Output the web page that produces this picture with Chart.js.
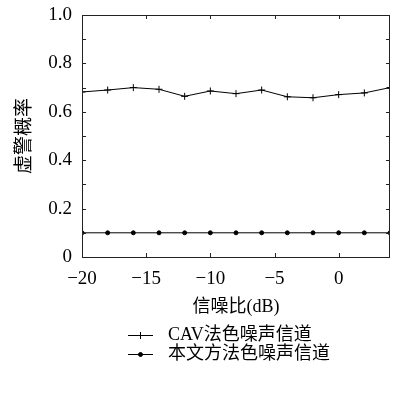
<!DOCTYPE html>
<html>
<head>
<meta charset="utf-8">
<script src="https://cdn.jsdelivr.net/npm/chart.js@4"></script>
<style>
  html, body { margin: 0; padding: 0; background: #fff; }
  #wrap { width: 399px; height: 412px; }
</style>
</head>
<body>
<div id="wrap"><canvas id="grafica" width="399" height="412"></canvas></div>
<script>
// Datos
const snr = [-20, -18, -16, -14, -12, -10, -8, -6, -4, -2, 0, 2, 4];
const cavValores = [0.682, 0.690, 0.700, 0.693, 0.664, 0.686, 0.675, 0.690, 0.662, 0.658, 0.671, 0.678, 0.700];
const propuestoValores = [0.1, 0.1, 0.1, 0.1, 0.1, 0.1, 0.1, 0.1, 0.1, 0.1, 0.1, 0.1, 0.1];
const nombresSeries = ['CAV法色噪声信道', '本文方法色噪声信道'];

// Marcas de los ejes
const xTicks = [-20, -15, -10, -5, 0];
const xTickLabels = ['\u221220', '\u221215', '\u221210', '\u22125', '0'];
const yTicks = [0, 0.1, 0.2, 0.3, 0.4, 0.5, 0.6, 0.7, 0.8, 0.9, 1.0];
const yTickLabels = ['0', '', '0.2', '', '0.4', '', '0.6', '', '0.8', '', '1.0'];

const fuenteNum = "'Liberation Serif', 'Noto Sans CJK SC', serif";
const fuenteTexto = "'Liberation Serif', 'Noto Sans CJK SC', serif";

// Marco y pequeñas marcas hacia dentro, como en la figura original
const marcoPlugin = {
  id: 'marco',
  afterDatasetsDraw(chart) {
    const { ctx, chartArea: a, scales } = chart;
    ctx.save();
    ctx.strokeStyle = '#222';
    ctx.lineWidth = 1;
    ctx.strokeRect(a.left + 0.5, a.top + 0.5, a.right - a.left - 1, a.bottom - a.top);
    ctx.beginPath();
    const largo = 4;
    xTicks.forEach(v => {
      const px = Math.round(scales.x.getPixelForValue(v)) + 0.5;
      ctx.moveTo(px, a.bottom); ctx.lineTo(px, a.bottom - largo);
      ctx.moveTo(px, a.top); ctx.lineTo(px, a.top + largo);
    });
    yTicks.forEach(v => {
      const py = Math.round(scales.y.getPixelForValue(v)) + 0.5;
      ctx.moveTo(a.left, py); ctx.lineTo(a.left + largo, py);
      ctx.moveTo(a.right, py); ctx.lineTo(a.right - largo, py);
    });
    ctx.stroke();
    ctx.restore();
  }
};

// Leyenda dibujada debajo del eje x (dos filas, línea con marcador)
const leyendaPlugin = {
  id: 'leyendaAbajo',
  afterDraw(chart) {
    const { ctx } = chart;
    const x0 = 128, x1 = 153, xTexto = 168;
    const filas = [335, 354];
    ctx.save();
    chart.data.datasets.forEach((ds, i) => {
      const y = filas[i] + 0.5;
      ctx.strokeStyle = '#000';
      ctx.lineWidth = 1;
      ctx.beginPath();
      ctx.moveTo(x0, y); ctx.lineTo(x1, y);
      ctx.stroke();
      Chart.helpers.drawPoint(ctx, {
        pointStyle: ds.pointStyle, radius: ds.pointRadius, borderWidth: 1
      }, (x0 + x1) / 2, y);
      ctx.fillStyle = '#000';
      ctx.font = '18px ' + fuenteTexto;
      ctx.textBaseline = 'middle';
      ctx.textAlign = 'left';
      ctx.fillText(ds.label, xTexto, y);
    });
    ctx.restore();
  }
};

const ctx = document.getElementById('grafica').getContext('2d');
const chart = new Chart(ctx, {
  type: 'line',
  data: {
    datasets: [
      {
        label: nombresSeries[0],
        data: snr.map((x, i) => ({ x: x, y: cavValores[i] })),
        borderColor: '#000', backgroundColor: '#000', borderWidth: 1,
        pointStyle: 'cross', pointRadius: 3.5, pointBorderWidth: 1, tension: 0
      },
      {
        label: nombresSeries[1],
        data: snr.map((x, i) => ({ x: x, y: propuestoValores[i] })),
        borderColor: '#000', backgroundColor: '#000', borderWidth: 1,
        pointStyle: 'circle', pointRadius: 2, pointBorderWidth: 1, tension: 0
      }
    ]
  },
  options: {
    responsive: false,
    animation: false,
    layout: { padding: { left: 0, right: 9, top: 15, bottom: 90 } },
    plugins: {
      legend: { display: false },
      tooltip: { enabled: false }
    },
    scales: {
      x: {
        type: 'linear',
        min: -20, max: 4,
        grid: { display: false, drawTicks: false },
        border: { display: false },
        afterBuildTicks: axis => { axis.ticks = xTicks.map(v => ({ value: v })); },
        afterFit: axis => {
          axis.height = 65;
          axis.paddingLeft = 0;
          axis.paddingRight = 0;
        },
        ticks: {
          padding: 11,
          color: '#000',
          font: { family: fuenteNum, size: 19 },
          maxRotation: 0,
          callback: v => xTickLabels[xTicks.indexOf(v)]
        },
        title: {
          display: true, text: '信噪比(dB)', color: '#000',
          font: { family: fuenteTexto, size: 18 },
          padding: { top: 0, bottom: 4 }
        }
      },
      y: {
        min: 0, max: 1,
        grid: { display: false, drawTicks: false },
        border: { display: false },
        afterBuildTicks: axis => { axis.ticks = yTicks.map(v => ({ value: v })); },
        afterFit: axis => {
          axis.width = 82;
          axis.paddingTop = 0;
          axis.paddingBottom = 0;
        },
        ticks: {
          padding: 10,
          color: '#000',
          font: { family: fuenteNum, size: 19 },
          autoSkip: false,
          callback: (v, i) => yTickLabels[i]
        },
        title: {
          display: true, text: '虚警概率', color: '#000',
          font: { family: fuenteTexto, size: 19 },
          padding: { top: 14, bottom: 0 }
        }
      }
    }
  },
  plugins: [marcoPlugin, leyendaPlugin]
});
</script>
</body>
</html>
